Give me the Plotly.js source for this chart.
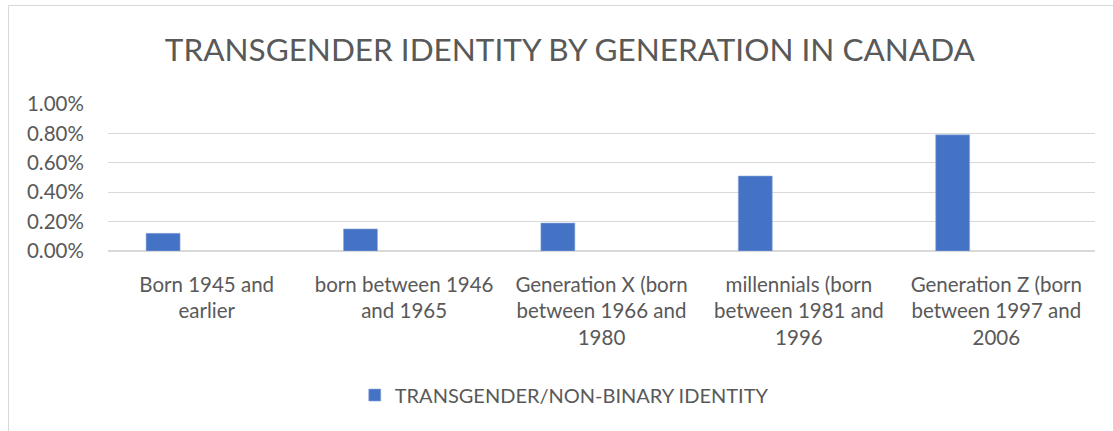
<!DOCTYPE html>
<html>
<head>
<meta charset="utf-8">
<script src="https://cdn.plot.ly/plotly-3.0.1.min.js"></script>
<style>
html,body{margin:0;padding:0;background:#fff;overflow:hidden;}
#wrap{position:relative;width:1113px;height:431px;overflow:hidden;}
#chart{position:absolute;left:0;top:0;width:1113px;height:431px;}
#frame{position:absolute;left:8px;top:5px;width:1200px;height:500px;border-top:1.5px solid #d9d9d9;border-left:1.5px solid #d9d9d9;pointer-events:none;}
</style>
</head>
<body>
<div id="wrap"><div id="chart"></div><div id="frame"></div></div>
<script>
const categories = [
  "Born 1945 and<br>earlier",
  "born between 1946<br>and 1965",
  "Generation X (born<br>between 1966 and<br>1980",
  "millennials (born<br>between 1981 and<br>1996",
  "Generation Z (born<br>between 1997 and<br>2006"
];
const seriesName = "TRANSGENDER/NON-BINARY IDENTITY";
const values = [0.0012, 0.0015, 0.0019, 0.0051, 0.0079];
const chartTitle = "TRANSGENDER IDENTITY BY GENERATION IN CANADA";

const FONT = "Lato, 'Open Sans', sans-serif";
const data = [{
  type: 'bar',
  x: categories,
  y: values,
  name: seriesName,
  marker: {color: '#4472C4', line: {color: '#8faadc', width: 0.6}},
  width: 0.172,
  offset: -0.307,
  showlegend: true,
  hoverinfo: 'none'
}];

const layout = {
  width: 1113, height: 431,
  margin: {l: 108, r: 18, t: 104, b: 180},
  paper_bgcolor: '#ffffff',
  plot_bgcolor: '#ffffff',
  title: {text: chartTitle, x: 0.512, xanchor: 'center', y: 0.885, yanchor: 'middle',
          font: {family: FONT, size: 31.5, color: '#595959'}},
  xaxis: {type: 'category', showgrid: false, zeroline: false, showline: false,
          ticks: 'outside', ticklen: 15, tickcolor: 'rgba(0,0,0,0)',
          tickfont: {family: FONT, size: 20.5, color: '#595959'}, tickangle: 0},
  yaxis: {range: [0, 0.01], dtick: 0.002, tickformat: '.2%',
          showgrid: true, gridcolor: '#d9d9d9', gridwidth: 1.3,
          zeroline: true, zerolinecolor: '#d9d9d9', zerolinewidth: 1.3,
          ticks: 'outside', ticklen: 19, tickcolor: 'rgba(0,0,0,0)',
          tickfont: {family: FONT, size: 20.5, color: '#595959'}},
  legend: {orientation: 'h', x: 0.25, xanchor: 'left', y: -0.98, yanchor: 'middle',
           font: {family: FONT, size: 20, color: '#595959'}, itemwidth: 30},
  showlegend: true
};
Plotly.newPlot('chart', data, layout, {displayModeBar: false, staticPlot: true});
</script>
</body>
</html>
